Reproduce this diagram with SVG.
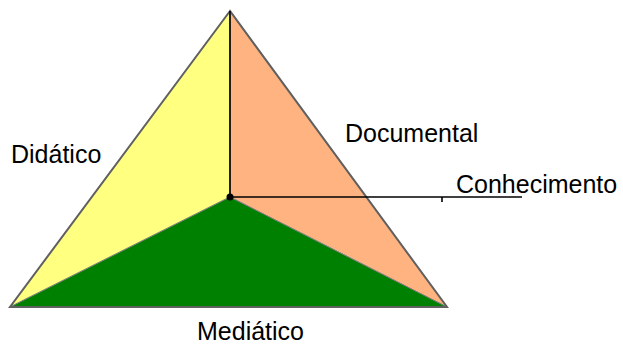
<svg xmlns="http://www.w3.org/2000/svg" width="623" height="344" viewBox="0 0 623 344">
<style>
.face{stroke:#808080;stroke-width:1}
.edge{fill:none;stroke:#000;stroke-width:1.6}
.lbl{font-family:"Liberation Sans",Arial,sans-serif;font-size:25px;fill:#000}
</style>
<rect width="623" height="344" fill="#fff"/>
<g id="face-didatico"><polygon class="face" points="230,11 230,197 10,307" fill="#FFFF80"/></g>
<g id="face-documental"><polygon class="face" points="230,11 230,197 447,307" fill="#FFB380"/></g>
<g id="face-mediatico"><polygon class="face" points="10,307 230,197 447,307" fill="#008000"/></g>
<g id="outline"><polygon points="230,11 10,307 447,307" fill="none" stroke="#606060" stroke-width="2"/></g>
<g id="connectors">
<line class="edge" x1="230" y1="11" x2="230" y2="197"/>
<line class="edge" x1="230" y1="197" x2="522" y2="197"/>
<line class="edge" x1="442" y1="197" x2="442" y2="202" stroke-width="1"/>
<circle cx="230" cy="197" r="3.5" fill="#000"/>
</g>
<g id="lbl-didatico"><text class="lbl" x="11" y="163">Didático</text></g>
<g id="lbl-documental"><text class="lbl" x="345" y="142">Documental</text></g>
<g id="lbl-conhecimento"><text class="lbl" x="456" y="193">Conhecimento</text></g>
<g id="lbl-mediatico"><text class="lbl" x="197" y="340">Mediático</text></g>
</svg>
